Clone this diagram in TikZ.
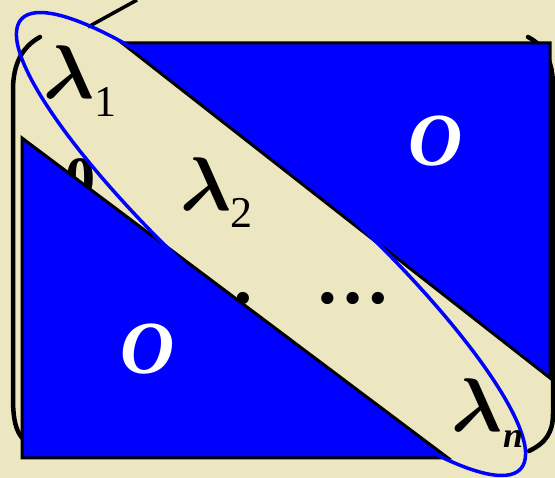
\RequirePackage{fix-cm}
\documentclass[tikz,border=0pt]{standalone}
\usepackage{fontspec}
\setmainfont{Liberation Serif}
\definecolor{bgbeige}{RGB}{236,231,193}
\definecolor{pureblue}{RGB}{0,0,255}
\tikzset{
  parenline/.style={line width=4.5pt, line cap=round},
  blocktri/.style={fill=pureblue, draw=black, line width=3pt, line join=miter},
  ringline/.style={draw=pureblue, line width=3.5pt},
  lamtext/.style={inner sep=0pt, font=\fontsize{76}{76}\selectfont\boldmath},
  subdigit/.style={inner sep=0pt, font=\fontsize{44}{44}\selectfont},
  subletter/.style={inner sep=0pt, font=\bfseries\itshape\fontsize{36}{36}\selectfont},
  zerotext/.style={inner sep=0pt, text=white, font=\bfseries\itshape\fontsize{75}{75}\selectfont},
  dotstext/.style={inner sep=0pt, font=\bfseries\fontsize{75}{75}\selectfont},
}
\begin{document}
\begin{tikzpicture}[x=1pt,y=-1pt]
\useasboundingbox (0,0) rectangle (555,478);
\fill[bgbeige] (0,0) rectangle (555,478);
% top stroke
\coordinate (topA) at (88,27);
\coordinate (topB) at (137,0);
\draw[line width=3.5pt] (topA) -- (topB);
% parentheses
\draw[parenline] (40,37) .. controls (22,47) and (13,64) .. (13,90) -- (13,398) .. controls (13,420) and (16,432) .. (24,440);
\draw[parenline] (528,37) .. controls (545,46) and (553,62) .. (553,86) -- (553,414) .. controls (553,432) and (546,443) .. (529,451);
% hidden entries
\node[inner sep=0pt, anchor=north, font=\bfseries\fontsize{60}{60}\selectfont] (zeroHidden) at (80,158) {0};
\node[dotstext, anchor=base] (dotsHidden) at (218,304) {…};
% blocks
\filldraw[blocktri] (122,43) -- (550,43) -- (550,378) -- cycle;
\filldraw[blocktri] (22,138) -- (22,458) -- (448,458) -- cycle;
% visible dots
\node[dotstext, anchor=base] (dotsR) at (353,304) {…};
% ellipse
\draw[ringline, rotate around={-42:(271,244)}] (271,244) ellipse [x radius=336, y radius=74];
% labels
\node[lamtext, anchor=base west] (lam1) at (43,99) {$\lambda$};
\node[subdigit, anchor=base west] (sub1) at (94,117) {1};
\node[lamtext, anchor=base west] (lam2) at (180,211) {$\lambda$};
\node[subdigit, anchor=base west] (sub2) at (230,228) {2};
\node[lamtext, anchor=base west] (lamn) at (451,432) {$\lambda$};
\node[subletter, anchor=base west] (subn) at (503,448) {n};
\node[zerotext] (Oup) at (436,141) {O};
\node[zerotext] (Olow) at (148,349) {O};
\end{tikzpicture}
\end{document}
